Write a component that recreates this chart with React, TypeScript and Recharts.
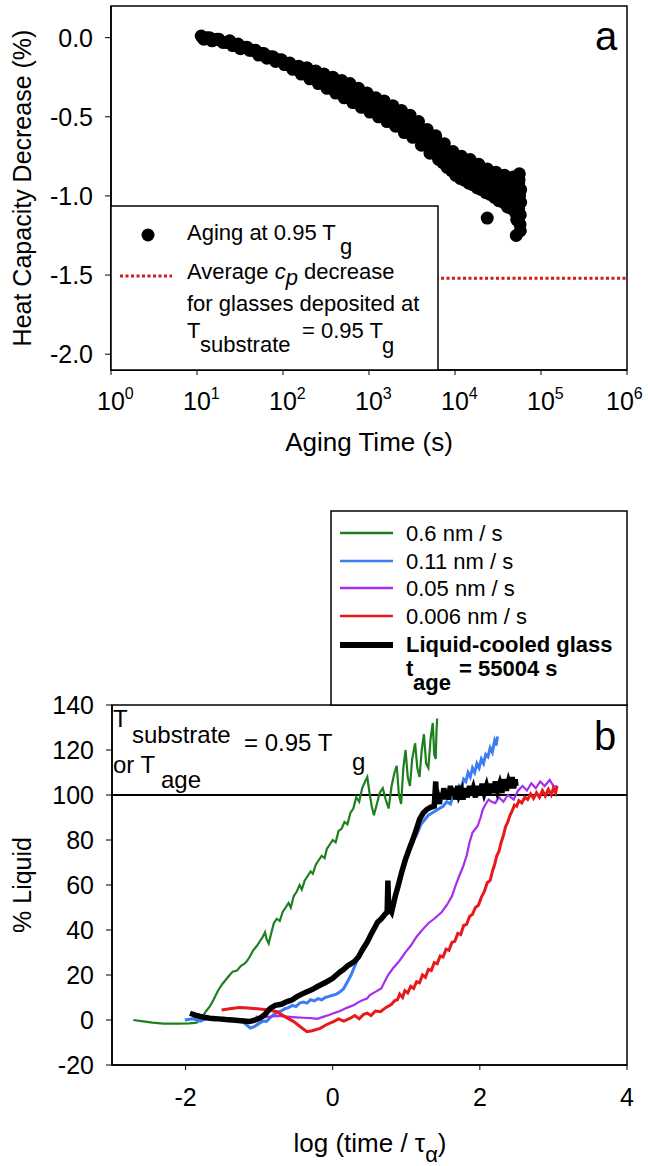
import React from "react";
import {
  ScatterChart,
  Scatter,
  LineChart,
  Line,
  XAxis,
  YAxis,
  ReferenceLine,
  ReferenceArea,
} from "recharts";

const FONT = "'Liberation Sans', Arial, Helvetica, sans-serif";

// ---- panel a: heat capacity decrease vs aging time ----
const agingTime = [
  11.2, 12, 13, 14, 15, 17, 18, 20, 22, 24, 26, 28, 30, 32, 35, 38, 41, 44, 48, 52,
  56, 60, 65, 70, 76, 82, 89, 96, 104, 112, 120, 130, 140, 152, 163, 176, 190, 205,
  222, 240, 258, 280, 300, 325, 350, 380, 410, 445, 480, 515, 555, 600, 650, 700,
  755, 815, 880, 950, 1025, 1100, 1200, 1290, 1390, 1500, 1620, 1750, 1890, 2040,
  2200, 2380, 2570, 2770, 3000, 3230, 3490, 3770, 4070, 4390, 4740, 5120, 5530,
  5970, 6450, 6960, 7510, 8110, 8760, 9460, 10200, 11000, 11900, 12850, 13900,
  15000, 16200, 17500, 18900, 20400, 22000, 23800, 25700, 27700, 29900, 32300,
  34900, 37700, 40700, 43900, 47400, 51200, 53500,
  23700, 45000, 49000, 51500, 55000, 55000, 56000, 57000, 58000, 58000, 57500,
  56500, 54000, 52500,
];
const cpDecrease = [
  0.01, -0.01, 0.0, 0.0, -0.02, -0.01, -0.01, -0.03, -0.03, -0.02, -0.05, -0.05,
  -0.04, -0.07, -0.06, -0.06, -0.08, -0.08, -0.08, -0.11, -0.1, -0.1, -0.13, -0.12,
  -0.12, -0.15, -0.14, -0.14, -0.17, -0.17, -0.16, -0.2, -0.19, -0.18, -0.23, -0.21,
  -0.19, -0.26, -0.24, -0.21, -0.29, -0.26, -0.23, -0.32, -0.29, -0.25, -0.35,
  -0.31, -0.27, -0.38, -0.34, -0.29, -0.41, -0.37, -0.32, -0.44, -0.39, -0.35,
  -0.47, -0.42, -0.38, -0.5, -0.45, -0.4, -0.53, -0.48, -0.43, -0.56, -0.51, -0.46,
  -0.6, -0.54, -0.49, -0.63, -0.58, -0.53, -0.68, -0.63, -0.58, -0.73, -0.67, -0.62,
  -0.77, -0.72, -0.67, -0.82, -0.77, -0.72, -0.87, -0.8, -0.75, -0.9, -0.83, -0.77,
  -0.93, -0.86, -0.8, -0.96, -0.89, -0.83, -0.99, -0.92, -0.85, -1.03, -0.95, -0.87,
  -1.07, -0.98, -0.88, -1.11, -1.0,
  -1.14, -1.03, -1.05, -1.25, -0.92, -1.08, -0.86, -1.18, -0.96, -1.04, -1.12,
  -0.98, -1.06, -1.15,
];
// second pass of readings filling the thick part of the band
const agingTimeFill = [
  200, 214, 251, 269, 316, 339, 398, 427, 501, 537, 631, 676, 794, 851, 1000, 1070,
  1260, 1350, 1580, 1700, 1995, 2140, 2510, 2690, 3160, 3390, 3980, 4270, 5010, 5370,
  6310, 6760, 7240, 7940, 8510, 9120, 10000, 10700, 11500, 12600, 13500, 14500,
  15800, 17000, 18200, 20000, 21400, 22900, 25100, 26900, 28800, 31600, 33900,
  36300, 39800, 42700, 45700, 49000, 52500, 56200, 57500, 55500,
];
const cpDecreaseFill = [
  -0.215, -0.245, -0.23, -0.28, -0.25, -0.3, -0.27, -0.33, -0.3, -0.36, -0.33, -0.39,
  -0.36, -0.42, -0.39, -0.45, -0.42, -0.48, -0.45, -0.51, -0.48, -0.54, -0.51, -0.57,
  -0.54, -0.61, -0.58, -0.66, -0.63, -0.7, -0.67, -0.75, -0.79, -0.72, -0.8, -0.84,
  -0.76, -0.84, -0.89, -0.79, -0.87, -0.92, -0.82, -0.9, -0.95, -0.85, -0.93, -0.98,
  -0.87, -0.96, -1.01, -0.89, -0.99, -1.04, -0.92, -1.02, -1.08, -0.94, -1.15, -1.0,
  -1.22, -0.9,
];
const avgDepositedDecrease = -1.52;
const timeTicks = [1, 10, 100, 1000, 10000, 100000, 1000000];
const cpTicks = [0, -0.5, -1, -1.5, -2];

// ---- panel b: % liquid vs log(time / tau_alpha) ----
const rate06 = [
  [-2.71, 0], [-2.6, -0.5], [-2.45, -1.2], [-2.3, -1.6], [-2.1, -1.6], [-1.95, -1.5],
  [-1.85, -1.2], [-1.78, 1], [-1.72, 4], [-1.67, 6], [-1.62, 9], [-1.56, 13],
  [-1.5, 16], [-1.45, 18], [-1.4, 20], [-1.36, 21.5], [-1.3, 22], [-1.25, 24],
  [-1.2, 25], [-1.17, 26], [-1.13, 28], [-1.08, 31], [-1.03, 33], [-0.99, 35],
  [-0.95, 37], [-0.92, 39], [-0.9, 36], [-0.87, 34], [-0.84, 38], [-0.8, 43],
  [-0.76, 45], [-0.72, 44], [-0.68, 48], [-0.64, 50], [-0.6, 52], [-0.57, 50],
  [-0.53, 55], [-0.49, 57], [-0.45, 60], [-0.42, 58], [-0.38, 62], [-0.34, 64],
  [-0.3, 66], [-0.27, 65], [-0.23, 69], [-0.19, 71], [-0.15, 73], [-0.11, 72],
  [-0.08, 76], [-0.04, 78], [0.0, 80], [0.04, 79], [0.08, 84], [0.12, 85],
  [0.16, 88], [0.2, 87], [0.24, 92], [0.28, 94], [0.32, 99], [0.36, 97],
  [0.4, 103], [0.44, 106], [0.47, 108], [0.5, 101], [0.53, 95], [0.56, 91],
  [0.6, 96], [0.64, 101], [0.68, 103], [0.72, 98], [0.76, 94], [0.8, 104],
  [0.84, 110], [0.87, 113], [0.9, 100], [0.93, 96], [0.96, 112], [0.99, 120],
  [1.02, 108], [1.05, 104], [1.08, 116], [1.12, 123], [1.15, 112], [1.18, 108],
  [1.21, 120], [1.24, 127], [1.27, 114], [1.3, 112], [1.33, 125], [1.36, 132],
  [1.38, 118], [1.4, 116], [1.41, 128], [1.42, 134],
];
const rate011 = [
  [-2.01, 0], [-1.9, 0.5], [-1.8, -0.5], [-1.7, 0.8], [-1.6, 0], [-1.5, 0.5],
  [-1.4, -0.3], [-1.3, 0], [-1.22, -0.8], [-1.16, -2.5], [-1.12, -3.6], [-1.06, -2.8],
  [-1.0, -1.5], [-0.95, -0.5], [-0.9, -0.6], [-0.85, 1], [-0.8, 2.5], [-0.75, 3.5],
  [-0.7, 4], [-0.65, 5], [-0.6, 5.5], [-0.55, 6.5], [-0.5, 6], [-0.45, 7.5],
  [-0.4, 8], [-0.35, 7.5], [-0.3, 9], [-0.25, 8.5], [-0.2, 9.5], [-0.15, 9],
  [-0.1, 10], [-0.05, 10.5], [0.0, 11], [0.05, 11.5], [0.1, 12.5], [0.15, 14],
  [0.2, 17], [0.25, 20], [0.3, 24], [0.35, 28], [0.4, 31], [0.45, 34], [0.5, 37],
  [0.55, 40], [0.6, 43], [0.65, 45], [0.7, 46], [0.75, 50], [0.8, 52], [0.85, 54],
  [0.9, 60], [0.95, 66], [1.0, 71], [1.05, 76], [1.1, 80], [1.15, 83], [1.2, 87],
  [1.25, 89], [1.3, 91], [1.35, 92], [1.4, 93], [1.45, 94], [1.5, 95], [1.55, 97],
  [1.6, 96], [1.63, 99], [1.66, 101], [1.69, 100], [1.72, 104], [1.75, 103],
  [1.78, 107], [1.81, 106], [1.84, 110], [1.87, 108], [1.9, 112], [1.93, 110],
  [1.96, 114], [1.99, 112], [2.02, 116], [2.05, 114], [2.08, 118], [2.11, 117],
  [2.14, 121], [2.17, 119], [2.2, 124], [2.22, 122], [2.24, 126],
];
const rate005 = [
  [-1.05, 1.5], [-0.95, 1.2], [-0.85, 1.5], [-0.75, 1.8], [-0.62, 1.5], [-0.5, 1.2],
  [-0.4, 1], [-0.3, 0.8], [-0.21, 0.5], [-0.12, 1.5], [-0.05, 2.2], [0.01, 3],
  [0.1, 4], [0.2, 5.5], [0.29, 6.7], [0.38, 8.5], [0.47, 9.6], [0.5, 11],
  [0.58, 12.5], [0.66, 14], [0.75, 19.9], [0.82, 23], [0.9, 26], [0.99, 30.2],
  [1.06, 33], [1.14, 37], [1.23, 40.5], [1.3, 43], [1.38, 45], [1.48, 47.9],
  [1.55, 51], [1.62, 55], [1.67, 59.7], [1.72, 64], [1.77, 68], [1.82, 73],
  [1.86, 79], [1.9, 83.3], [1.94, 85], [1.97, 86.2], [2.01, 90], [2.04, 93.6],
  [2.08, 96], [2.12, 98], [2.16, 97], [2.21, 96.4], [2.26, 99], [2.32, 97],
  [2.38, 100], [2.46, 98], [2.52, 102], [2.58, 104], [2.64, 102], [2.7, 105.2],
  [2.76, 103], [2.82, 106], [2.88, 104], [2.95, 106.7], [3.0, 104], [3.05, 103.8],
];
const rate0006 = [
  [-1.51, 4.4], [-1.4, 5], [-1.27, 5.5], [-1.15, 5.3], [-0.99, 4.9], [-0.88, 4.5],
  [-0.76, 3.7], [-0.65, 1.5], [-0.53, -0.7], [-0.44, -3], [-0.35, -5.2], [-0.28, -4.8],
  [-0.17, -3.7], [-0.08, -2], [0.01, -0.7], [0.08, 0.5], [0.15, -0.5], [0.24, 0.8],
  [0.3, 2], [0.36, 0.5], [0.42, 2.5], [0.47, 3], [0.52, 2], [0.58, 4], [0.65, 3.7],
  [0.72, 5.5], [0.8, 7], [0.84, 8.5], [0.88, 9], [0.91, 11.5], [0.95, 10], [0.98, 13],
  [1.02, 12], [1.06, 15], [1.1, 14], [1.14, 17], [1.18, 16.5], [1.22, 20], [1.26, 19],
  [1.3, 22.5], [1.34, 22], [1.38, 25.5], [1.42, 25], [1.46, 28.5], [1.5, 28],
  [1.54, 31.5], [1.58, 31], [1.62, 34.5], [1.66, 35], [1.7, 38.5], [1.74, 38],
  [1.78, 42], [1.82, 42.5], [1.86, 46], [1.9, 47], [1.94, 50], [1.98, 51],
  [2.02, 54.5], [2.06, 57], [2.1, 61], [2.14, 62], [2.17, 66], [2.2, 69], [2.23, 73],
  [2.26, 75], [2.29, 79], [2.32, 82], [2.35, 86], [2.38, 88], [2.41, 91], [2.44, 93],
  [2.47, 95.5], [2.5, 95], [2.53, 97.5], [2.57, 96.5], [2.61, 99], [2.65, 98],
  [2.69, 100.5], [2.73, 98.5], [2.77, 101], [2.81, 99], [2.85, 102], [2.89, 99.5],
  [2.93, 102.5], [2.97, 100], [3.0, 103], [3.03, 101], [3.05, 104],
];
const liquidCooled = [
  [-1.94, 3], [-1.85, 2], [-1.75, 1.2], [-1.67, 0.8], [-1.55, 0.5], [-1.45, 0.2],
  [-1.36, 0], [-1.25, -0.3], [-1.13, -0.7], [-1.05, 0], [-0.99, 0.8], [-0.92, 2.5],
  [-0.85, 5.2], [-0.78, 6.5], [-0.7, 7], [-0.62, 8.2], [-0.55, 9], [-0.48, 10.5],
  [-0.42, 11.5], [-0.35, 12.6], [-0.28, 13.5], [-0.2, 15], [-0.14, 16], [-0.08, 17],
  [0.0, 18.5], [0.05, 20], [0.1, 21.4], [0.15, 22.5], [0.2, 24], [0.29, 25.8],
  [0.35, 28], [0.4, 31], [0.47, 34.7], [0.52, 38], [0.57, 41], [0.61, 43.5],
  [0.66, 45], [0.71, 47], [0.74, 48], [0.75, 62], [0.76, 50], [0.8, 48], [0.85, 55],
  [0.89, 59.7], [0.94, 66], [0.99, 71.5], [1.04, 76], [1.09, 80.3], [1.14, 85],
  [1.18, 89.2], [1.23, 92], [1.28, 93.6], [1.33, 94.5], [1.38, 95], [1.4, 106],
  [1.41, 97], [1.43, 99], [1.45, 96], [1.47, 101], [1.49, 98], [1.51, 103],
  [1.53, 99], [1.55, 102], [1.57, 98], [1.6, 104], [1.62, 100], [1.65, 103],
  [1.67, 98], [1.7, 104], [1.72, 100], [1.75, 102], [1.77, 98], [1.8, 103],
  [1.83, 99], [1.86, 104], [1.88, 100], [1.91, 103], [1.94, 99], [1.97, 104],
  [2.0, 100], [2.03, 105], [2.06, 101], [2.09, 104], [2.12, 100], [2.15, 105],
  [2.18, 101], [2.21, 106], [2.24, 102], [2.27, 105], [2.3, 101], [2.33, 107],
  [2.36, 102], [2.39, 106], [2.42, 103], [2.44, 108], [2.46, 103], [2.48, 107],
  [2.49, 104],
];
const logTicks = [-2, 0, 2, 4];
const liquidTicks = [-20, 0, 20, 40, 60, 80, 100, 120, 140];

const agingData = [
  ...agingTime.map((t, i) => ({ t, v: cpDecrease[i] })),
  ...agingTimeFill.map((t, i) => ({ t, v: cpDecreaseFill[i] })),
];
const toXY = (arr: number[][]) => arr.map(([x, y]) => ({ x, y }));

const axisStyle = { stroke: "#000", strokeWidth: 1.5 };
const tickStyle = { fill: "#000", fontSize: 25, fontFamily: FONT };

const PowerTick = (props: any) => {
  const { x, y, payload } = props;
  const exp = Math.round(Math.log10(payload.value));
  return (
    <text x={x - 14} y={y} dy="0.71em" fill="#000" fontSize={25} fontFamily={FONT}>
      10
      <tspan fontSize={16} dy={-11}>{exp}</tspan>
    </text>
  );
};

const BigDot = (props: any) => <circle cx={props.cx} cy={props.cy} r={6.5} fill="#000" />;

const App: React.FC = () => {
  return (
    <div style={{ position: "absolute", left: 0, top: 0, width: 648, height: 1166, background: "#fff" }}>
      <div style={{ position: "absolute", left: 0, top: 0 }}>
        <ScatterChart width={648} height={470} margin={{ top: 6, right: 21, bottom: 0, left: 0 }}>
          <XAxis
            type="number"
            dataKey="t"
            scale="log"
            domain={[1, 1000000]}
            ticks={timeTicks}
            allowDataOverflow
            height={100}
            axisLine={axisStyle}
            tickLine={{ stroke: "#000" }}
            tickSize={5}
            tickMargin={17}
            tick={<PowerTick />}
          />
          <YAxis
            type="number"
            dataKey="v"
            domain={[-2.1, 0.2]}
            ticks={cpTicks}
            width={111}
            axisLine={axisStyle}
            tickLine={{ stroke: "#000" }}
            tickSize={6}
            tickMargin={12}
            tick={tickStyle}
            tickFormatter={(v: number) => v.toFixed(1)}
          />
          <ReferenceArea x1={1} x2={1000000} y1={-2.1} y2={0.2} fill="none" stroke="#000" strokeWidth={1.5} />
          <ReferenceLine y={avgDepositedDecrease} stroke="#d7191c" strokeWidth={3} strokeDasharray="3 2.5" />
          <Scatter data={agingData} fill="#000" shape={<BigDot />} isAnimationActive={false} />
        </ScatterChart>
      </div>

      <div style={{ position: "absolute", left: 0, top: 600 }}>
        <LineChart width={648} height={566} margin={{ top: 105, right: 21, bottom: 0, left: 0 }}>
          <XAxis
            type="number"
            dataKey="x"
            domain={[-3, 4]}
            ticks={logTicks}
            allowDataOverflow
            height={101}
            axisLine={axisStyle}
            tickLine={{ stroke: "#000" }}
            tickSize={5}
            tickMargin={18}
            tick={tickStyle}
          />
          <YAxis
            type="number"
            dataKey="y"
            domain={[-20, 140]}
            ticks={liquidTicks}
            width={112}
            axisLine={axisStyle}
            tickLine={{ stroke: "#000" }}
            tickSize={6}
            tickMargin={12}
            tick={tickStyle}
          />
          <ReferenceArea x1={-3} x2={4} y1={-20} y2={140} fill="none" stroke="#000" strokeWidth={1.5} />
          <ReferenceLine y={100} stroke="#000" strokeWidth={2} />
          <Line data={toXY(rate06)} dataKey="y" stroke="#1d7f1d" strokeWidth={2.2} dot={false} isAnimationActive={false} />
          <Line data={toXY(rate011)} dataKey="y" stroke="#3b7df2" strokeWidth={3} dot={false} isAnimationActive={false} />
          <Line data={toXY(rate005)} dataKey="y" stroke="#a62cf0" strokeWidth={2.2} dot={false} isAnimationActive={false} />
          <Line data={toXY(rate0006)} dataKey="y" stroke="#e8191b" strokeWidth={3} dot={false} isAnimationActive={false} />
          <Line data={toXY(liquidCooled)} dataKey="y" stroke="#000" strokeWidth={5.5} dot={false} isAnimationActive={false} />
        </LineChart>
      </div>

      <svg
        width={648}
        height={1166}
        style={{ position: "absolute", left: 0, top: 0, pointerEvents: "none" }}
        fontFamily={FONT}
        fill="#000"
      >
        {/* panel a */}
        <text transform="translate(31,188) rotate(-90)" textAnchor="middle" fontSize={25}>
          Heat Capacity Decrease (%)
        </text>
        <text x={369} y={451} textAnchor="middle" fontSize={26}>Aging Time (s)</text>
        <text x={606} y={50} textAnchor="middle" fontSize={40}>a</text>

        <rect x={111} y={206} width={327} height={164} fill="#fff" stroke="#000" strokeWidth={1.5} />
        <circle cx={148} cy={235} r={6.5} fill="#000" />
        <text x={187} y={240} fontSize={22}>Aging at 0.95 T</text>
        <text x={340} y={254} fontSize={22}>g</text>
        <line x1={120} x2={172} y1={276} y2={276} stroke="#d7191c" strokeWidth={3} strokeDasharray="3 2.5" />
        <text x={187} y={279} fontSize={22}>
          Average <tspan fontStyle="italic">c</tspan>
          <tspan fontStyle="italic" dy={6}>p</tspan>
          <tspan dy={-6}> decrease</tspan>
        </text>
        <text x={187} y={311} fontSize={22}>for glasses deposited at</text>
        <text x={187} y={338} fontSize={22}>T</text>
        <text x={200} y={352} fontSize={22}>substrate</text>
        <text x={302} y={338} fontSize={22}>= 0.95 T</text>
        <text x={382} y={353} fontSize={22}>g</text>

        {/* panel b */}
        <text transform="translate(31,885) rotate(-90)" textAnchor="middle" fontSize={25}>
          % Liquid
        </text>
        <text x={370} y={1152} textAnchor="middle" fontSize={26}>
          log (time / τ<tspan fontSize={22} dy={10}>α</tspan>
          <tspan dy={-10}>)</tspan>
        </text>
        <text x={605} y={750} textAnchor="middle" fontSize={40}>b</text>

        <text x={113} y={727} fontSize={24}>T</text>
        <text x={132} y={743} fontSize={24}>substrate</text>
        <text x={244} y={751} fontSize={24}>= 0.95 T</text>
        <text x={352} y={770} fontSize={24}>g</text>
        <text x={113} y={773} fontSize={24}>or T</text>
        <text x={161} y={788} fontSize={24}>age</text>

        <rect x={331} y={511} width={296} height={194} fill="#fff" stroke="#000" strokeWidth={1.5} />
        <line x1={340} x2={393} y1={533} y2={533} stroke="#1d7f1d" strokeWidth={2.5} />
        <line x1={340} x2={393} y1={561} y2={561} stroke="#3b7df2" strokeWidth={2.5} />
        <line x1={340} x2={393} y1={588} y2={588} stroke="#a62cf0" strokeWidth={2.5} />
        <line x1={340} x2={393} y1={616} y2={616} stroke="#e8191b" strokeWidth={2.5} />
        <line x1={340} x2={393} y1={645} y2={645} stroke="#000" strokeWidth={6} />
        <text x={406} y={541} fontSize={22}>0.6 nm / s</text>
        <text x={406} y={569} fontSize={22}>0.11 nm / s</text>
        <text x={406} y={596} fontSize={22}>0.05 nm / s</text>
        <text x={406} y={624} fontSize={22}>0.006 nm / s</text>
        <text x={406} y={652} fontSize={22} fontWeight="bold">Liquid-cooled glass</text>
        <text x={406} y={676} fontSize={22} fontWeight="bold">t</text>
        <text x={413} y={690} fontSize={22} fontWeight="bold">age</text>
        <text x={459} y={676} fontSize={22} fontWeight="bold">= 55004 s</text>
      </svg>
    </div>
  );
};

export default App;
